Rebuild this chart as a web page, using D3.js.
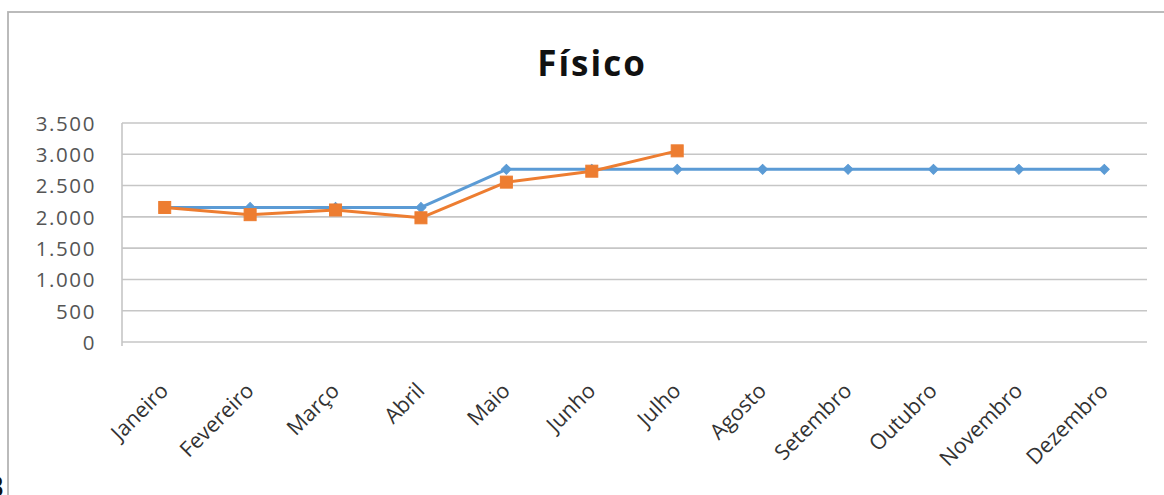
<!DOCTYPE html>
<html>
<head>
<meta charset="utf-8">
<script src="https://cdn.jsdelivr.net/npm/d3@7"></script>
<style>
  html, body { margin: 0; padding: 0; background: #fff; }
  svg { display: block; }
</style>
</head>
<body>
<svg id="chart" width="1164" height="495"></svg>
<script>
// Monthly series for the "Físico" chart
const months = ["Janeiro", "Fevereiro", "Março", "Abril", "Maio", "Junho",
                "Julho", "Agosto", "Setembro", "Outubro", "Novembro", "Dezembro"];
const planned = [2150, 2150, 2150, 2150, 2760, 2760, 2760, 2760, 2760, 2760, 2760, 2760];
const actual  = [2150, 2035, 2110, 1985, 2555, 2730, 3055];
const yTicks  = [0, 500, 1000, 1500, 2000, 2500, 3000, 3500];
const title   = "Físico";

const svg = d3.select("#chart");
const plot = { left: 122, right: 1147, top: 123, bottom: 342 };
const font = "'Open Sans', 'Liberation Sans', sans-serif";

// Portuguese number formatting: "3.500"
const fmt = d3.formatLocale({ decimal: ",", thousands: ".", grouping: [3], currency: ["R$", ""] }).format(",");

// Surrounding document fragments
svg.append("text").attr("x", 500).attr("y", -9)
  .attr("font-family", font).attr("font-weight", 700).attr("font-size", 22)
  .attr("fill", "#111").text("ç");
svg.append("text").attr("x", -15).attr("y", 497)
  .attr("font-family", font).attr("font-weight", 700).attr("font-size", 28)
  .attr("fill", "#111").text("B");

// Chart frame
svg.append("rect")
  .attr("x", 8).attr("y", 12).attr("width", 1170).attr("height", 500)
  .attr("fill", "#fff").attr("stroke", "#b4b4b4").attr("stroke-width", 1.8);

// Title
svg.append("text")
  .attr("x", 592).attr("y", 76)
  .attr("text-anchor", "middle")
  .attr("font-family", font).attr("font-weight", 700).attr("font-size", 35)
  .attr("letter-spacing", 2)
  .attr("fill", "#111")
  .text(title);

const x = d3.scaleBand().domain(months).range([plot.left, plot.right]).padding(0);
const y = d3.scaleLinear().domain([0, 3500]).range([plot.bottom, plot.top]);
const cx = m => x(m) + x.bandwidth() / 2;

// Gridlines
svg.append("g").selectAll("line").data(yTicks).join("line")
  .attr("x1", plot.left).attr("x2", plot.right)
  .attr("y1", d => y(d)).attr("y2", d => y(d))
  .attr("stroke", "#c6c6c6")
  .attr("stroke-width", 1.6);

// Vertical axis line
svg.append("line")
  .attr("x1", plot.left).attr("x2", plot.left)
  .attr("y1", plot.top).attr("y2", plot.bottom + 4)
  .attr("stroke", "#c6c6c6").attr("stroke-width", 1.6);

// Y axis labels
const yAxis = d3.axisLeft(y).tickValues(yTicks).tickFormat(fmt).tickSize(0).tickPadding(26);
const gy = svg.append("g").attr("transform", `translate(${plot.left},0)`).call(yAxis);
gy.select(".domain").remove();
gy.selectAll("text")
  .attr("font-family", font).attr("font-size", 20.5).attr("fill", "#555")
  .attr("letter-spacing", 1.6)
  .attr("dy", "0.36em");

// X axis labels, rotated
const xAxis = d3.axisBottom(x).tickSize(0).tickPadding(0);
const gx = svg.append("g").attr("transform", `translate(0,${plot.bottom})`).call(xAxis);
gx.select(".domain").remove();
gx.selectAll(".tick text")
  .attr("font-family", font).attr("font-size", 21.5).attr("fill", "#333")
  .attr("text-anchor", "end")
  .attr("dy", null).attr("y", 0)
  .attr("transform", "translate(5,50) rotate(-45)");

// Lines
const line = d3.line().x((d, i) => cx(months[i])).y(d => y(d));

svg.append("path").datum(planned)
  .attr("d", line).attr("fill", "none")
  .attr("stroke", "#5b9bd5").attr("stroke-width", 3).attr("stroke-linejoin", "round");

svg.append("path").datum(actual)
  .attr("d", line).attr("fill", "none")
  .attr("stroke", "#ed7d31").attr("stroke-width", 3).attr("stroke-linejoin", "round");

// Markers: diamonds for the planned series
svg.append("g").selectAll("path").data(planned).join("path")
  .attr("transform", (d, i) => `translate(${cx(months[i])},${y(d)}) rotate(45)`)
  .attr("d", "M-3.5,-3.5H3.5V3.5H-3.5Z")
  .attr("fill", "#5b9bd5").attr("stroke", "#5b9bd5").attr("stroke-width", 1);

// Markers: squares for the actual series
svg.append("g").selectAll("rect").data(actual).join("rect")
  .attr("x", (d, i) => cx(months[i]) - 6).attr("y", d => y(d) - 6)
  .attr("width", 12).attr("height", 12)
  .attr("fill", "#ed7d31").attr("stroke", "#ed7d31").attr("stroke-width", 1);
</script>
</body>
</html>
